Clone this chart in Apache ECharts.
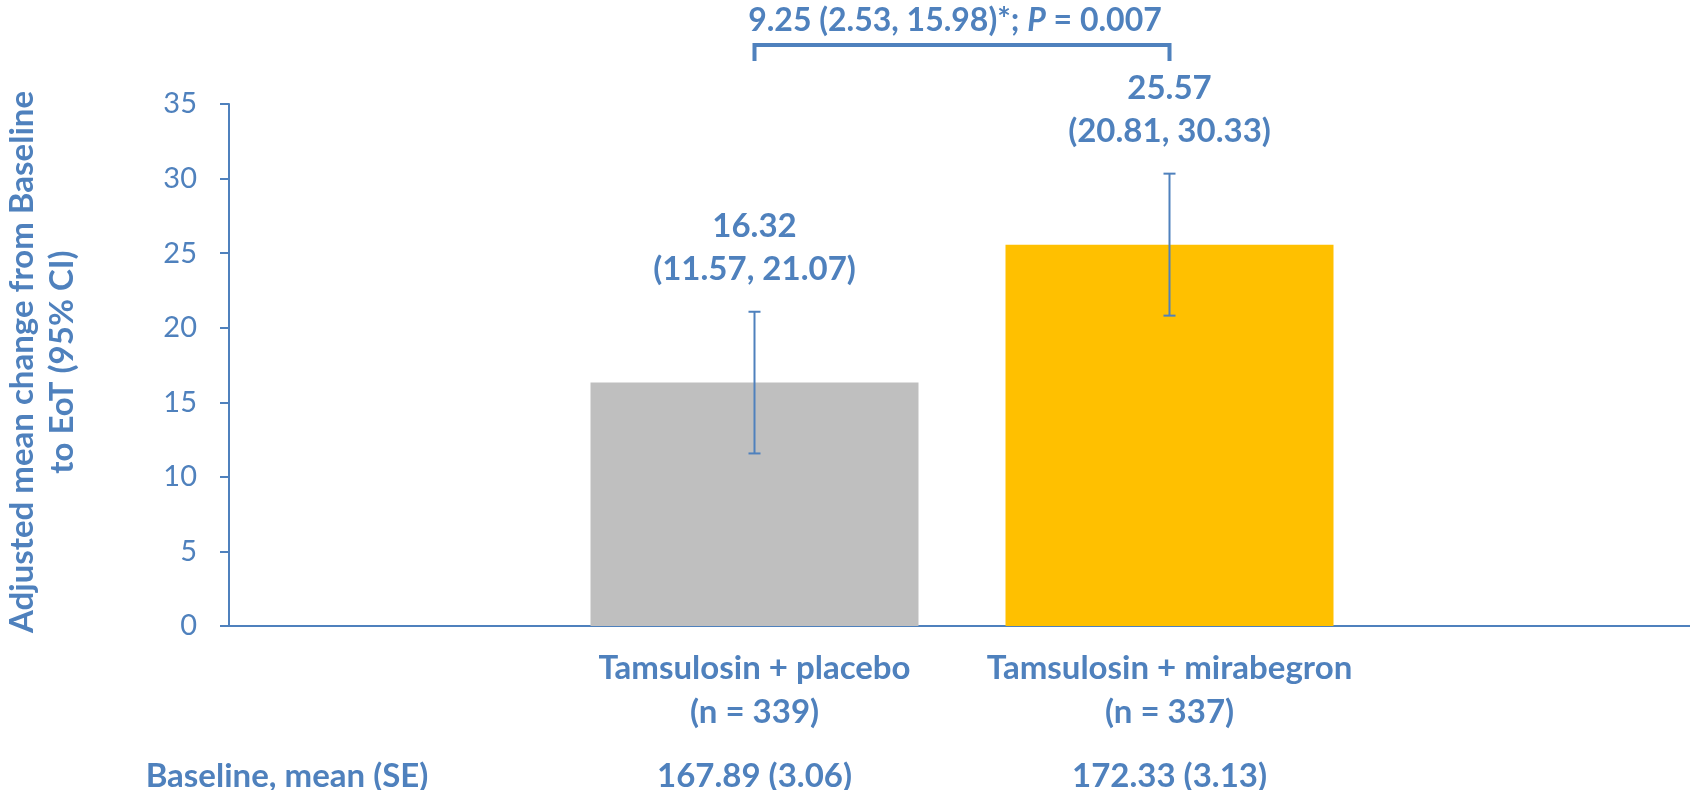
<!DOCTYPE html>
<html>
<head>
<meta charset="utf-8">
<title>Adjusted mean change from Baseline to EoT</title>
<script src="https://cdn.jsdelivr.net/npm/echarts@6/dist/echarts.min.js"></script>
<style>
  html, body { margin: 0; padding: 0; background: #ffffff; }
  #chart { width: 1690px; height: 790px; }
</style>
</head>
<body>
<div id="chart"></div>
<script>
// Treatment groups and their results
const categories = ['Tamsulosin + placebo', 'Tamsulosin + mirabegron'];
const sampleSizes = [339, 337];
const meanChange = [16.32, 25.57];
const ciLower = [11.57, 20.81];
const ciUpper = [21.07, 30.33];
const baselineMean = [167.89, 172.33];
const baselineSE = [3.06, 3.13];
const barColors = ['#BFBFBF', '#FFC000'];

// Between-group difference (mirabegron vs placebo)
const diffEstimate = 9.25;
const diffLower = 2.53;
const diffUpper = 15.98;
const pValue = '0.007';

// Value axis range
const yMin = 0;
const yMax = 35;
const yInterval = 5;

const BLUE = '#4F81BD';
const FONT = 'Lato, "Open Sans", sans-serif';
const BOLD = 'bold 33px ' + FONT;

const chart = echarts.init(document.getElementById('chart'), null, { renderer: 'canvas' });

const errorData = categories.map((c, i) => [i, ciLower[i], ciUpper[i], meanChange[i]]);

const option = {
  backgroundColor: '#ffffff',
  animation: false,
  textStyle: { fontFamily: FONT },
  grid: [
    // full-width frame carrying the value axis and the baseline rule
    { left: 229, right: 0, top: 104, bottom: 164, outerBoundsMode: 'none', containLabel: false },
    // narrower band where the two bars sit
    { left: 547, right: 313, top: 104, bottom: 164, outerBoundsMode: 'none', containLabel: false }
  ],
  xAxis: [
    {
      gridIndex: 0, type: 'value', min: 0, max: 1,
      axisLine: { show: true, lineStyle: { color: BLUE, width: 2 } },
      axisTick: { show: false }, axisLabel: { show: false }, splitLine: { show: false }
    },
    {
      gridIndex: 1, type: 'category', data: categories,
      axisLine: { show: false }, axisTick: { show: false }, splitLine: { show: false },
      axisLabel: {
        margin: 20, color: BLUE, fontFamily: FONT, fontWeight: 'bold', fontSize: 33,
        lineHeight: 44, interval: 0,
        formatter: (v, i) => v + '\n(n = ' + sampleSizes[i] + ')'
      }
    },
    {
      gridIndex: 1, type: 'category', data: categories, position: 'bottom', offset: 112,
      axisLine: { show: false }, axisTick: { show: false }, splitLine: { show: false },
      axisLabel: {
        margin: 16, color: BLUE, fontFamily: FONT, fontWeight: 'bold', fontSize: 33,
        lineHeight: 44, interval: 0,
        formatter: (v, i) => baselineMean[i].toFixed(2) + ' (' + baselineSE[i].toFixed(2) + ')'
      }
    }
  ],
  yAxis: [
    {
      gridIndex: 0, type: 'value', min: yMin, max: yMax, interval: yInterval,
      axisLine: { show: true, lineStyle: { color: BLUE, width: 2 } },
      axisTick: { show: true, inside: false, length: 9, lineStyle: { color: BLUE, width: 2 } },
      axisLabel: { color: BLUE, fontFamily: FONT, fontSize: 29, margin: 32 },
      splitLine: { show: false }
    },
    {
      gridIndex: 1, type: 'value', min: yMin, max: yMax, interval: yInterval, show: false
    }
  ],
  graphic: [
    {
      type: 'text', x: 42, y: 362, rotation: Math.PI / 2,
      style: {
        text: 'Adjusted mean change from Baseline\nto EoT (95% CI)',
        fill: BLUE, font: BOLD, lineHeight: 40,
        textAlign: 'center', textVerticalAlign: 'middle'
      }
    },
    {
      type: 'text', x: 287, y: 776,
      style: {
        text: 'Baseline, mean (SE)', fill: BLUE, font: BOLD,
        textAlign: 'center', textVerticalAlign: 'middle'
      }
    }
  ],
  series: [
    {
      type: 'bar', xAxisIndex: 1, yAxisIndex: 1, barWidth: 328,
      data: meanChange.map((v, i) => ({ value: v, itemStyle: { color: barColors[i] } }))
    },
    {
      // 95% CI whiskers with the value labels stacked above
      type: 'custom', xAxisIndex: 1, yAxisIndex: 1, clip: false, z: 5,
      data: errorData,
      encode: { x: 0, y: [1, 2] },
      renderItem: (params, api) => {
        const idx = api.value(0);
        const top = api.coord([idx, api.value(2)]);
        const bot = api.coord([idx, api.value(1)]);
        const cap = 6;
        const ls = { stroke: BLUE, lineWidth: 2 };
        const mean = api.value(3);
        return {
          type: 'group',
          children: [
            { type: 'line', shape: { x1: top[0], y1: top[1], x2: bot[0], y2: bot[1] }, style: ls },
            { type: 'line', shape: { x1: top[0] - cap, y1: top[1], x2: top[0] + cap, y2: top[1] }, style: ls },
            { type: 'line', shape: { x1: bot[0] - cap, y1: bot[1], x2: bot[0] + cap, y2: bot[1] }, style: ls },
            {
              type: 'text', x: top[0], y: top[1] - 85,
              style: { text: mean.toFixed(2), fill: BLUE, font: BOLD, textAlign: 'center', textVerticalAlign: 'middle' }
            },
            {
              type: 'text', x: top[0], y: top[1] - 42,
              style: {
                text: '(' + api.value(1).toFixed(2) + ', ' + api.value(2).toFixed(2) + ')',
                fill: BLUE, font: BOLD, textAlign: 'center', textVerticalAlign: 'middle'
              }
            }
          ]
        };
      }
    },
    {
      // comparison bracket between the two groups
      type: 'custom', xAxisIndex: 1, yAxisIndex: 1, clip: false, z: 5,
      data: [[0, 1]],
      renderItem: (params, api) => {
        const a = api.coord([api.value(0), yMax]);
        const b = api.coord([api.value(1), yMax]);
        const yLine = a[1] - 59;
        const yLeg = a[1] - 43;
        return {
          type: 'group',
          children: [
            {
              type: 'polyline',
              shape: { points: [[a[0], yLeg], [a[0], yLine], [b[0], yLine], [b[0], yLeg]] },
              style: { stroke: BLUE, lineWidth: 4, fill: null }
            },
            {
              type: 'text', x: (a[0] + b[0]) / 2 - 7, y: a[1] - 83,
              style: {
                text: '{b|' + diffEstimate.toFixed(2) + ' (' + diffLower.toFixed(2) + ', ' + diffUpper.toFixed(2) + ')*; }{i|P}{b| = ' + pValue + '}',
                rich: {
                  b: { fill: BLUE, fontFamily: FONT, fontWeight: 'bold', fontSize: 32 },
                  i: { fill: BLUE, fontFamily: FONT, fontWeight: 'bold', fontStyle: 'italic', fontSize: 32 }
                },
                textAlign: 'center', textVerticalAlign: 'middle'
              }
            }
          ]
        };
      }
    }
  ]
};

chart.setOption(option);
</script>
</body>
</html>
